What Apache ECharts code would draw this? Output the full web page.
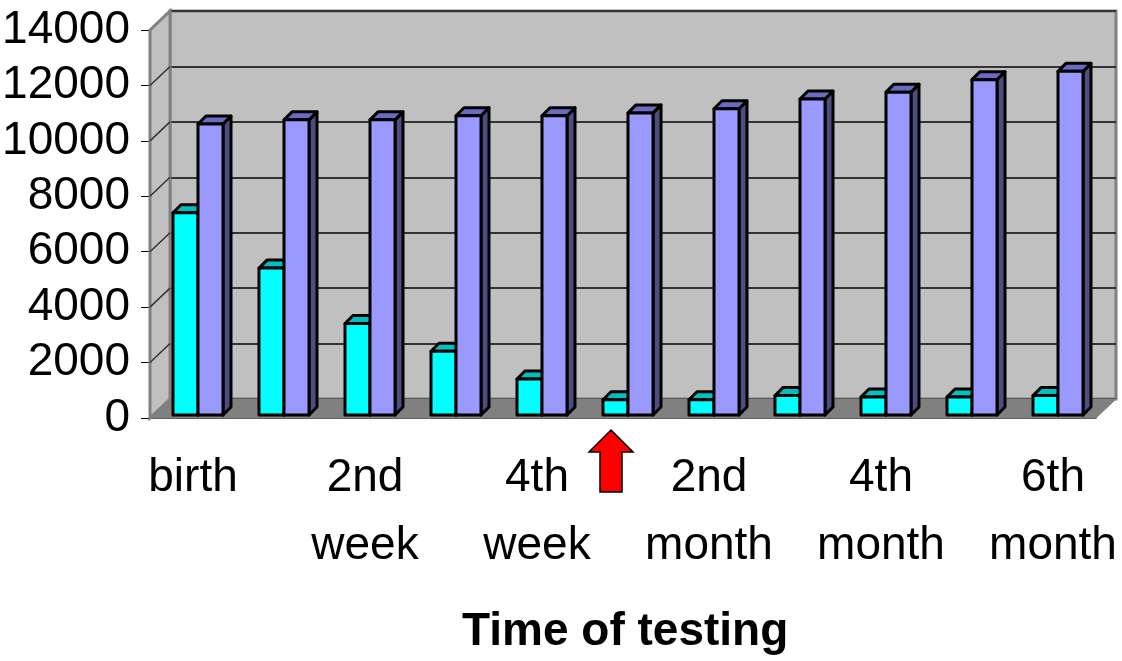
<!DOCTYPE html>
<html>
<head>
<meta charset="utf-8">
<script src="https://cdn.jsdelivr.net/npm/echarts@6/dist/echarts.min.js"></script>
<style>
  html, body { margin: 0; padding: 0; background: #fff; }
  #chart { width: 1122px; height: 661px; }
</style>
</head>
<body>
<div id="chart"></div>
<script>
  var categories = ['birth', '1st week', '2nd week', '3rd week', '4th week', '6th week',
    '2nd month', '3rd month', '4th month', '5th month', '6th month'];
  var xLabels = ['birth', '', '2nd\nweek', '', '4th\nweek', '',
    '2nd\nmonth', '', '4th\nmonth', '', '6th\nmonth'];
  var cyanValues = [7300, 5300, 3300, 2300, 1300, 550, 550, 700, 650, 650, 700];
  var blueValues = [10500, 10650, 10650, 10800, 10800, 10900, 11050, 11400, 11650, 12100, 12400];
  var arrowIndex = 5;

  var labelFont = "'Liberation Sans', Arial, sans-serif";
  // depth of the back wall and of the bar tops
  var wallDx = 20, wallDy = -19;
  var barDx = 8, barDy = -8, barW = 25;

  function bar3d(colors, left) {
    return function (params, api) {
      var idx = api.value(0);
      var base = api.coord([idx, 0]);
      var top = api.coord([idx, api.value(1)]);
      var cx = base[0] + 5;
      var x0 = left ? cx - barW : cx;
      var x1 = x0 + barW;
      var yb = base[1] - 3, yt = top[1] - 3;
      var line = { stroke: '#000', lineWidth: 3, lineJoin: 'round' };
      return {
        type: 'group',
        children: [
          {
            type: 'polygon',
            shape: { points: [[x1, yt], [x1 + barDx, yt + barDy], [x1 + barDx, yb + barDy], [x1, yb]] },
            style: Object.assign({ fill: colors.side }, line)
          },
          {
            type: 'polygon',
            shape: { points: [[x0, yt], [x0 + barDx, yt + barDy], [x1 + barDx, yt + barDy], [x1, yt]] },
            style: Object.assign({ fill: colors.top }, line)
          },
          {
            type: 'rect',
            shape: { x: x0, y: yt, width: barW, height: yb - yt },
            style: Object.assign({ fill: colors.front }, line)
          }
        ]
      };
    };
  }

  var chart = echarts.init(document.getElementById('chart'));
  chart.setOption({
    animation: false,
    title: {
      text: 'Time of testing',
      left: 457,
      top: 604,
      textStyle: { fontFamily: labelFont, fontSize: 46, fontWeight: 'bold', color: '#000' }
    },
    grid: [
      { left: 150, right: 26, top: 30, bottom: 243, outerBoundsMode: 'none' },
      {
        left: 150 + wallDx, right: 26 - wallDx, top: 30 + wallDy, bottom: 243 - wallDy,
        outerBoundsMode: 'none',
        show: true, backgroundColor: '#c0c0c0', borderColor: '#808080', borderWidth: 3
      }
    ],
    xAxis: [
      {
        type: 'category',
        gridIndex: 0,
        data: categories,
        axisLine: { lineStyle: { color: '#000', width: 1.5 } },
        axisTick: { length: 12, interval: 0, lineStyle: { color: '#000', width: 1 } },
        axisLabel: {
          interval: 0,
          margin: 26,
          fontFamily: labelFont,
          fontSize: 46,
          lineHeight: 68,
          color: '#000',
          formatter: function (v, i) { return xLabels[i]; }
        }
      },
      { type: 'category', gridIndex: 1, data: categories, show: false }
    ],
    yAxis: [
      {
        type: 'value',
        gridIndex: 0,
        min: 0,
        max: 14000,
        interval: 2000,
        axisLine: { show: true, lineStyle: { color: '#000', width: 1.5 } },
        axisTick: { show: true, length: 9, lineStyle: { color: '#000' } },
        splitLine: { show: false },
        axisLabel: {
          margin: 20, fontFamily: labelFont, fontSize: 46, color: '#000',
          formatter: function (v) { return String(v); }
        }
      },
      {
        type: 'value',
        gridIndex: 1,
        min: 0,
        max: 14000,
        interval: 2000,
        axisLine: { show: false },
        axisTick: { show: false },
        axisLabel: { show: false },
        splitLine: { lineStyle: { color: '#333', width: 2 } }
      }
    ],
    series: [
      {
        type: 'custom',
        name: 'cyan',
        xAxisIndex: 0,
        yAxisIndex: 0,
        z: 5,
        renderItem: bar3d({ front: '#00ffff', top: '#00c0c0', side: '#008080' }, true),
        data: cyanValues.map(function (v, i) { return [i, v]; })
      },
      {
        type: 'custom',
        name: 'blue',
        xAxisIndex: 0,
        yAxisIndex: 0,
        z: 6,
        renderItem: bar3d({ front: '#9999ff', top: '#6b6bc4', side: '#4d4d80' }, false),
        data: blueValues.map(function (v, i) { return [i, v]; })
      }
    ]
  });

  // floor, left wall and arrow placed from the axes
  var y0 = chart.convertToPixel({ yAxisIndex: 0 }, 0);
  var yTop = chart.convertToPixel({ yAxisIndex: 0 }, 14000);
  var xRight = 1122 - 26;
  var xLeft = 150;
  var graphics = [
    {
      type: 'polygon', z: 1,
      shape: { points: [[xLeft, y0], [xLeft + wallDx, y0 + wallDy], [xRight + wallDx, y0 + wallDy], [xRight, y0]] },
      style: { fill: '#808080', stroke: '#808080', lineWidth: 1 }
    },
    {
      type: 'polygon', z: 1,
      shape: { points: [[xLeft, yTop], [xLeft + wallDx, yTop + wallDy], [xLeft + wallDx, y0 + wallDy], [xLeft, y0]] },
      style: { fill: '#c0c0c0', stroke: '#808080', lineWidth: 3 }
    }
  ];
  for (var v = 2000; v < 14000; v += 2000) {
    var yy = chart.convertToPixel({ yAxisIndex: 0 }, v);
    graphics.push({
      type: 'line', z: 2,
      shape: { x1: xLeft, y1: yy, x2: xLeft + wallDx, y2: yy + wallDy },
      style: { stroke: '#333', lineWidth: 1.5 }
    });
  }
  var ax = chart.convertToPixel({ xAxisIndex: 0 }, arrowIndex) - 12;
  var at = y0 + 12;
  graphics.push({
    type: 'polygon', z: 10,
    shape: {
      points: [[ax, at], [ax + 22, at + 22], [ax + 11, at + 22], [ax + 11, at + 62],
        [ax - 11, at + 62], [ax - 11, at + 22], [ax - 22, at + 22]]
    },
    style: { fill: '#ff0000', stroke: '#000', lineWidth: 1.5 }
  });
  chart.setOption({ graphic: graphics });
</script>
</body>
</html>
